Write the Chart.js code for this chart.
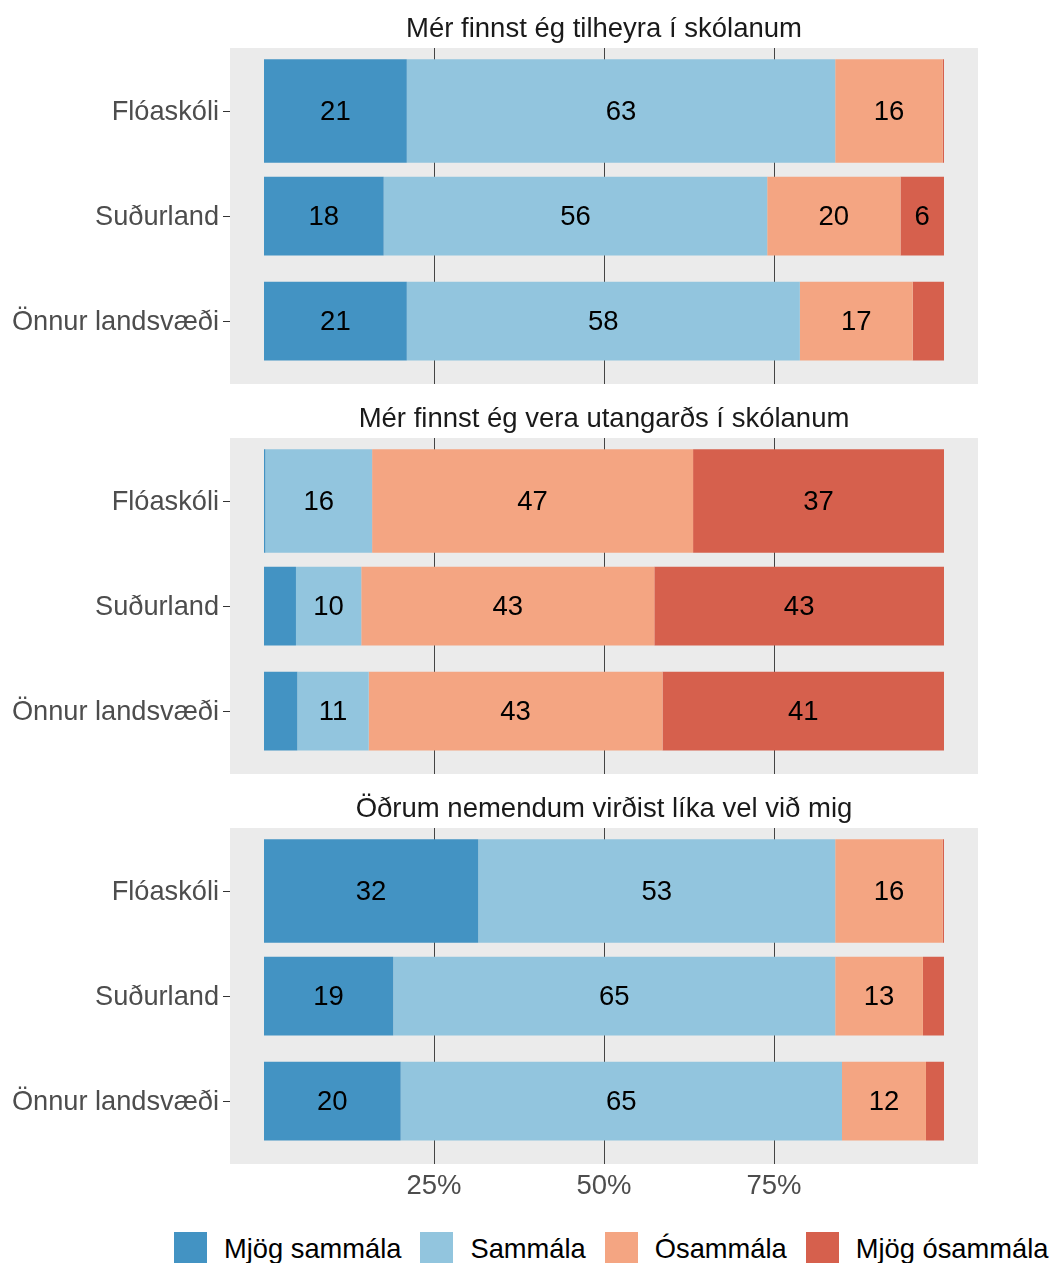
<!DOCTYPE html>
<html>
<head>
<meta charset="utf-8">
<script src="https://cdn.jsdelivr.net/npm/chart.js@4.4.1/dist/chart.umd.min.js"></script>
<style>
  body { margin: 0; background: #fff; width: 1051px; height: 1263px; overflow: hidden; position: relative;
         font-family: "Liberation Sans", Arial, sans-serif; }
  canvas { position: absolute; left: 0; }
  #legend { position: absolute; left: 174px; top: 1232px; display: flex; white-space: nowrap; font-size: 27.3px; color: #000; }
  .item { display: flex; align-items: center; margin-right: 19px; }
  .box { width: 33px; height: 33px; margin-right: 17px; }
</style>
</head>
<body>
<canvas id="p1" width="1051" height="390" style="top:0px"></canvas>
<canvas id="p2" width="1051" height="390" style="top:390px"></canvas>
<canvas id="p3" width="1051" height="452" style="top:780px"></canvas>
<div id="legend"></div>
<script>
const FONT = '"Liberation Sans", Arial, sans-serif';

const groups = ["Flóaskóli", "Suðurland", "Önnur landsvæði"];
const answers = ["Mjög sammála", "Sammála", "Ósammála", "Mjög ósammála"];
const titles = [
    "Mér finnst ég tilheyra í skólanum",
    "Mér finnst ég vera utangarðs í skólanum",
    "Öðrum nemendum virðist líka vel við mig"
];
// % per group (rows) and answer (columns)
const tilheyra = [
    [21.0, 63.0, 15.8, 0.2],
    [17.6, 56.4, 19.6, 6.4],
    [21.0, 57.8, 16.6, 4.6]
];
const utangards = [
    [0.2, 15.7, 47.2, 36.9],
    [4.7, 9.6, 43.1, 42.6],
    [4.9, 10.5, 43.2, 41.4]
];
const likaVel = [
    [31.5, 52.5, 15.8, 0.2],
    [19.0, 65.0, 12.9, 3.1],
    [20.1, 64.9, 12.35, 2.65]
];
const xTicks = [25, 50, 75];

const colors = ["#4393C3", "#92C5DE", "#F4A582", "#D6604D"];
const rowThickness = [0.985, 0.75, 0.75];

Chart.defaults.font.family = FONT;
Chart.defaults.font.size = 27.5;

const panelBg = {
    id: "panelBg",
    beforeDraw(chart) {
        const a = chart.chartArea, ctx = chart.ctx;
        ctx.save();
        ctx.fillStyle = "#EBEBEB";
        ctx.fillRect(a.left, a.top, a.right - a.left, a.bottom - a.top);
        ctx.restore();
    }
};

const panelTitle = {
    id: "panelTitle",
    afterDraw(chart, args, opts) {
        const a = chart.chartArea, ctx = chart.ctx;
        ctx.save();
        ctx.font = "27.5px " + FONT;
        ctx.fillStyle = "#1A1A1A";
        ctx.textAlign = "center";
        ctx.textBaseline = "middle";
        ctx.fillText(opts.text, (a.left + a.right) / 2, 29);
        ctx.restore();
    }
};

const barLabels = {
    id: "barLabels",
    afterDatasetsDraw(chart) {
        const ctx = chart.ctx;
        ctx.save();
        ctx.font = "27.5px " + FONT;
        ctx.fillStyle = "#000";
        ctx.textAlign = "center";
        ctx.textBaseline = "middle";
        chart.data.datasets.forEach((ds, i) => {
            chart.getDatasetMeta(i).data.forEach((bar, j) => {
                const v = ds.data[j].x;
                if (v < 5) return;
                ctx.fillText(Math.round(v), (bar.x + bar.base) / 2, bar.y + 1);
            });
        });
        ctx.restore();
    }
};

function buildDatasets(values) {
    const sets = [];
    groups.forEach((g, gi) => {
        answers.forEach((ans, ai) => {
            sets.push({
                label: ans,
                data: [{ x: values[gi][ai], y: gi }],
                backgroundColor: colors[ai],
                borderWidth: 0,
                categoryPercentage: 1,
                barPercentage: rowThickness[gi]
            });
        });
    });
    return sets;
}

function noPad(axis) {
    axis.paddingTop = 0;
    axis.paddingBottom = 0;
    axis.paddingLeft = 0;
    axis.paddingRight = 0;
}

function makePanel(id, values, title, showX) {
    return new Chart(document.getElementById(id), {
        type: "bar",
        data: { datasets: buildDatasets(values) },
        plugins: [panelBg, panelTitle, barLabels],
        options: {
            responsive: false,
            animation: false,
            indexAxis: "y",
            layout: { padding: { top: 48, bottom: showX ? 28 : 6, left: 0, right: 73 } },
            plugins: {
                legend: { display: false },
                tooltip: { enabled: false },
                panelTitle: { text: title }
            },
            scales: {
                x: {
                    type: "linear",
                    min: -5,
                    max: 105,
                    stacked: true,
                    offset: false,
                    afterBuildTicks: (axis) => { axis.ticks = xTicks.map(v => ({ value: v })); },
                    afterFit: (axis) => { axis.height = showX ? 40 : 0; noPad(axis); },
                    grid: { color: "#444", lineWidth: 1, drawTicks: false, offset: false },
                    border: { display: false },
                    ticks: {
                        display: showX,
                        color: "#4D4D4D",
                        padding: 6,
                        maxRotation: 0,
                        callback: (v) => v + "%"
                    }
                },
                y: {
                    type: "linear",
                    min: -0.6,
                    max: 2.6,
                    reverse: true,
                    stacked: true,
                    offset: false,
                    afterBuildTicks: (axis) => { axis.ticks = groups.map((g, i) => ({ value: i })); },
                    afterFit: (axis) => { axis.width = 230; noPad(axis); },
                    grid: { drawOnChartArea: false, drawTicks: true, tickLength: 7, color: "#333", offset: false },
                    border: { display: false },
                    ticks: {
                        color: "#4D4D4D",
                        font: { size: 27.2 },
                        padding: 4,
                        labelOffset: 2,
                        autoSkip: false,
                        callback: (v) => groups[v]
                    }
                }
            }
        }
    });
}

makePanel("p1", tilheyra, titles[0], false);
makePanel("p2", utangards, titles[1], false);
makePanel("p3", likaVel, titles[2], true);

// legend
const legend = document.getElementById("legend");
answers.forEach((ans, i) => {
    const item = document.createElement("div");
    item.className = "item";
    item.innerHTML = `<div class="box" style="background:${colors[i]}"></div><span>${ans}</span>`;
    legend.appendChild(item);
});
</script>
</body>
</html>
